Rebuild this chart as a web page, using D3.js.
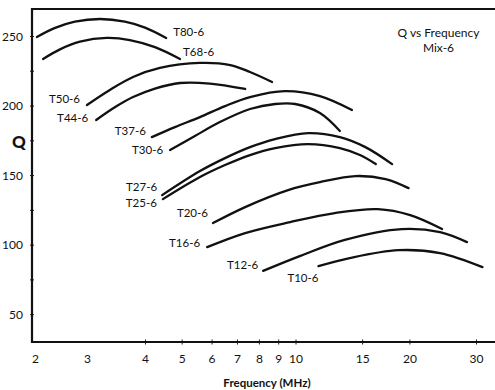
<!DOCTYPE html>
<html>
<head>
<meta charset="utf-8">
<script src="https://cdn.jsdelivr.net/npm/d3@7"></script>
<style>
  html, body { margin: 0; padding: 0; background: #fff; }
  svg { display: block; }
  text { font-family: Lato, "Open Sans", sans-serif; fill: #111; }
</style>
</head>
<body>
<svg id="chart" width="495" height="390"></svg>
<script>
// Toroid cores, powdered iron Mix-6: unloaded Q against frequency (MHz)
const coreNames = ["T80-6", "T68-6", "T50-6", "T44-6", "T37-6", "T30-6",
                   "T27-6", "T25-6", "T20-6", "T16-6", "T12-6", "T10-6"];

const freqT80 = [2.03, 2.34, 2.73, 3.2, 3.62, 4.0, 4.55];
const qT80    = [249.3, 255.8, 260.3, 262.2, 260.3, 256.0, 248.6];

const freqT68 = [2.13, 2.43, 2.84, 3.31, 3.71, 4.25, 4.95];
const qT68    = [233.5, 240.4, 245.9, 248.6, 247.1, 242.0, 233.5];

const freqT50 = [3.0, 3.36, 3.77, 4.38, 5.59, 6.72, 7.58, 8.67];
const qT50    = [200.4, 211.2, 220.5, 227.0, 230.6, 229.1, 224.1, 216.9];

const freqT44 = [3.14, 3.45, 3.77, 4.25, 4.95, 5.94, 7.36];
const qT44    = [189.6, 198.9, 206.1, 212.2, 216.2, 215.8, 211.9];

const freqT37 = [4.17, 4.80, 5.59, 6.51, 7.58, 9.38, 11.6, 14.1];
const qT37    = [177.3, 184.5, 191.7, 199.6, 206.1, 210.4, 206.8, 196.8];

const freqT30 = [4.66, 5.42, 6.31, 7.58, 8.83, 9.98, 11.6, 13.1];
const qT30    = [168.0, 178.1, 188.1, 197.5, 201.1, 201.1, 194.6, 181.7];

const freqT27 = [4.44, 5.59, 6.51, 7.58, 8.83, 10.8, 13.1, 15.3, 18.0];
const qT27    = [135.6, 152.9, 162.2, 170.1, 175.9, 180.2, 177.3, 170.1, 157.9];

const freqT25 = [4.46, 5.59, 6.51, 7.58, 8.83, 10.8, 13.1, 14.8, 16.3];
const qT25    = [132.7, 148.6, 157.2, 164.4, 169.4, 172.3, 169.4, 164.4, 157.9];

const freqT20 = [6.05, 7.36, 9.56, 11.6, 14.4, 17.3, 19.9];
const qT20    = [115.5, 127.0, 139.2, 144.9, 149.3, 147.1, 140.6];

const freqT16 = [5.84, 7.36, 9.68, 12.7, 16.5, 20.1, 24.4];
const qT16    = [98.2, 108.3, 116.2, 122.7, 125.5, 121.2, 111.2];

const freqT12 = [8.21, 10.3, 13.5, 19.1, 24.1, 28.4];
const qT12    = [81.1, 91.9, 103.4, 111.2, 109.0, 101.8];

const freqT10 = [11.5, 13.9, 18.7, 24.1, 31.2];
const qT10    = [84.5, 90.3, 96.0, 93.9, 83.8];

const freqSets = [freqT80, freqT68, freqT50, freqT44, freqT37, freqT30,
                  freqT27, freqT25, freqT20, freqT16, freqT12, freqT10];
const qSets    = [qT80, qT68, qT50, qT44, qT37, qT30,
                  qT27, qT25, qT20, qT16, qT12, qT10];

const xTickValues  = [2, 3, 4, 5, 6, 7, 8, 9, 10, 15, 20, 30];
const xTickMarks   = [4, 5, 6, 7, 8, 9, 10, 15, 20, 30];
const yTickValues  = [50, 100, 150, 200, 250];
const yMinorTicks  = [50, 75, 100, 125, 150, 175, 200, 225, 250];

const chartTitle = ["Q vs Frequency", "Mix-6"];
const xTitle = "Frequency (MHz)";
const yTitle = "Q";

// ---- layout ----
const frameLeft = 32, frameTop = 9, frameBottom = 342, frameRight = 495;

const svg = d3.select("#chart");

// the printed frequency axis is logarithmic, slightly stretched near its low end
const x = d3.scaleLog()
  .domain([2, 3, 4, 30])
  .range([35, 87, 145, 476]);

const y = d3.scaleLinear()
  .domain([30, 269.4])
  .range([frameBottom, frameTop]);

// top rule of the frame
svg.append("line")
  .attr("x1", frameLeft).attr("x2", frameRight)
  .attr("y1", frameTop).attr("y2", frameTop)
  .attr("stroke", "#111").attr("stroke-width", 2.2);

// y axis: minor ticks every 25, labels every 50
const yAxisG = svg.append("g").attr("transform", `translate(${frameLeft},0)`);
yAxisG.call(d3.axisLeft(y).tickValues(yMinorTicks).tickSize(0)
  .tickFormat(d => yTickValues.includes(d) ? d : ""));
yAxisG.select(".domain").remove();
yAxisG.selectAll(".tick text")
  .attr("x", -9).attr("dy", "0.35em")
  .style("font-family", "Lato, sans-serif").style("font-size", "12px")
  .attr("fill", "#111");
yAxisG.selectAll(".tick").append("line")
  .attr("x1", -2).attr("x2", 2)
  .attr("stroke", "#222").attr("stroke-width", 1);
yAxisG.append("line")
  .attr("x1", 0).attr("x2", 0).attr("y1", frameTop - 1).attr("y2", frameBottom + 1)
  .attr("stroke", "#111").attr("stroke-width", 2.2);

// x axis
const xAxisG = svg.append("g").attr("transform", `translate(0,${frameBottom})`);
xAxisG.call(d3.axisBottom(x).tickValues(xTickValues).tickSize(0)
  .tickFormat(d3.format("d")));
xAxisG.select(".domain").remove();
xAxisG.selectAll(".tick text")
  .attr("y", 12).attr("dy", "0.71em")
  .style("font-family", "Lato, sans-serif").style("font-size", "12px")
  .attr("fill", "#111");
xAxisG.selectAll(".tick").filter(d => xTickMarks.includes(d)).append("line")
  .attr("y1", -2.5).attr("y2", 2.5)
  .attr("stroke", "#222").attr("stroke-width", 1);
xAxisG.append("line")
  .attr("x1", frameLeft - 1).attr("x2", frameRight).attr("y1", 0).attr("y2", 0)
  .attr("stroke", "#111").attr("stroke-width", 2.2);

// axis titles
svg.append("text")
  .attr("x", 19).attr("y", 142).attr("dy", "0.35em")
  .attr("text-anchor", "middle")
  .style("font-family", "Lato, sans-serif")
  .style("font-size", "17px").style("font-weight", "900")
  .text(yTitle);

svg.append("text")
  .attr("x", 267).attr("y", 387)
  .attr("text-anchor", "middle")
  .style("font-family", "Lato, sans-serif")
  .style("font-size", "11.5px").style("font-weight", "700")
  .text(xTitle);

// chart title, top right
svg.append("g").selectAll("text").data(chartTitle).join("text")
  .attr("x", 438.5).attr("y", (d, i) => 33 + i * 15).attr("dy", "0.35em")
  .attr("text-anchor", "middle")
  .style("font-family", "Lato, sans-serif").style("font-size", "12px")
  .text(d => d);

// curves
const line = d3.line()
  .x(d => x(d[0]))
  .y(d => y(d[1]))
  .curve(d3.curveCatmullRom.alpha(0.5));

const series = coreNames.map((name, i) => ({
  name,
  points: freqSets[i].map((f, k) => [f, qSets[i][k]])
}));

svg.append("g").selectAll("path").data(series).join("path")
  .attr("d", d => line(d.points))
  .attr("fill", "none")
  .attr("stroke", "#111")
  .attr("stroke-width", 2.3)
  .attr("stroke-linecap", "round");

// curve labels: placed off one end of each curve (end: which end, anchor, dx, dy)
const labelPlacement = {
  "T80-6": ["last", "start", 7, -6],
  "T68-6": ["last", "start", 3, -7],
  "T50-6": ["first", "end", -7, -6],
  "T44-6": ["first", "end", -8, -2],
  "T37-6": ["first", "end", -6, -6],
  "T30-6": ["first", "end", -7, 0],
  "T27-6": ["first", "end", -5, -8],
  "T25-6": ["first", "end", -6, 4],
  "T20-6": ["first", "end", -5, -10],
  "T16-6": ["first", "end", -7, -4],
  "T12-6": ["first", "end", -5, -6],
  "T10-6": ["first", "end", 0, 12]
};

svg.append("g").selectAll("text").data(series).join("text")
  .each(function (d) {
    const [which, anchor, dx, dy] = labelPlacement[d.name];
    const p = which === "first" ? d.points[0] : d.points[d.points.length - 1];
    d3.select(this)
      .attr("x", x(p[0]) + dx)
      .attr("y", y(p[1]) + dy)
      .attr("dy", "0.35em")
      .attr("text-anchor", anchor);
  })
  .style("font-family", "Lato, sans-serif")
  .style("font-size", "11.5px")
  .text(d => d.name);
</script>
</body>
</html>
